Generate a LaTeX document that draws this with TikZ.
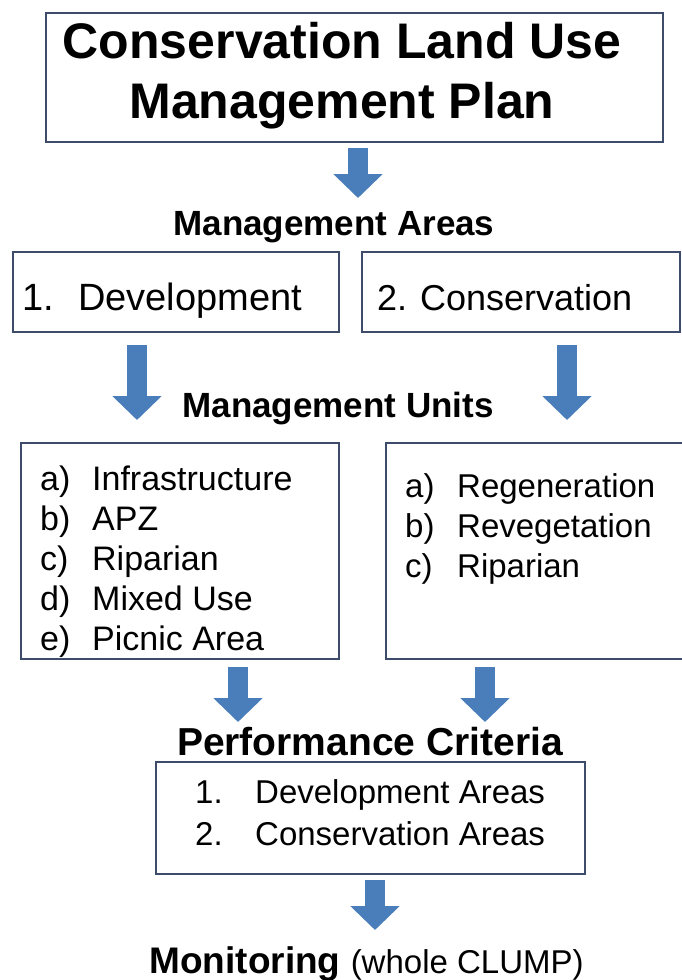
\documentclass[tikz,border=0pt]{standalone}
\usepackage{fontspec}
\setmainfont{Liberation Sans}
\usetikzlibrary{arrows.meta}
\definecolor{boxline}{HTML}{3E4C6C}
\definecolor{arrowblue}{HTML}{4A7EBB}
\tikzset{
  box/.style={draw=boxline, line width=2.2pt, inner sep=0pt, outer sep=0pt},
  head/.style={inner sep=0pt, anchor=base, font=\bfseries\fontsize{35}{42}\selectfont},
  item/.style={inner sep=0pt, anchor=base west},
  bigarrow/.style={draw=arrowblue, line width=20pt, -{Triangle[width=48pt,length=24pt]}},
}
\newcommand{\tag}[2]{\makebox[#1][l]{#2}}

\begin{document}
\begin{tikzpicture}[x=1pt,y=-1pt]
\useasboundingbox (0,0) rectangle (682,980);

\node[box, minimum width=617pt, minimum height=129pt] (plan) at (354.5,77.5) {};
\node[head, font=\bfseries\fontsize{50}{60}\selectfont] (title1) at (342,58) {Conservation Land Use};
\node[head, font=\bfseries\fontsize{50}{60}\selectfont] (title2) at (342,118) {Management Plan};

\node[head] (areas) at (334,235) {Management Areas};
\node[box, minimum width=326pt, minimum height=80pt] (dev) at (176,292) {};
\node[box, minimum width=318pt, minimum height=80pt] (cons) at (521,292) {};
\node[item, font=\fontsize{38}{44}\selectfont] (devtext) at (22,310) {\tag{56pt}{1.}Development};
\node[item, font=\fontsize{36}{44}\selectfont] (constext) at (377,310) {\tag{43pt}{2.}Conservation};

\node[head] (units) at (338,417) {Management Units};
\node[box, minimum width=318pt, minimum height=216pt] (devunits) at (180,551) {};
\node[box, minimum width=306pt, minimum height=216pt] (consunits) at (539,551) {};

\node[item, font=\fontsize{34}{40}\selectfont] (du1) at (40,490) {\tag{52pt}{a)}Infrastructure};
\node[item, font=\fontsize{34}{40}\selectfont] (du2) at (40,530) {\tag{52pt}{b)}APZ};
\node[item, font=\fontsize{34}{40}\selectfont] (du3) at (40,570) {\tag{52pt}{c)}Riparian};
\node[item, font=\fontsize{34}{40}\selectfont] (du4) at (40,610) {\tag{52pt}{d)}Mixed Use};
\node[item, font=\fontsize{34}{40}\selectfont] (du5) at (40,650) {\tag{52pt}{e)}Picnic Area};

\node[item, font=\fontsize{33}{40}\selectfont] (cu1) at (405,497) {\tag{52pt}{a)}Regeneration};
\node[item, font=\fontsize{33}{40}\selectfont] (cu2) at (405,537) {\tag{52pt}{b)}Revegetation};
\node[item, font=\fontsize{33}{40}\selectfont] (cu3) at (405,577) {\tag{52pt}{c)}Riparian};

\node[head, font=\bfseries\fontsize{39}{46}\selectfont] (crit) at (370,755) {Performance Criteria};
\node[box, minimum width=429pt, minimum height=112pt] (critbox) at (370.5,818) {};
\node[item, font=\fontsize{33}{40}\selectfont] (cr1) at (195,803) {\tag{60pt}{1.}Development Areas};
\node[item, font=\fontsize{33}{40}\selectfont] (cr2) at (195,845) {\tag{60pt}{2.}Conservation Areas};

\node[head, font=\bfseries\fontsize{37}{44}\selectfont] (monitor) at (366.5,973)
  {Monitoring {\mdseries\fontsize{33}{40}\selectfont (whole CLUMP)}};

% arrows
\draw[bigarrow] ([xshift=3.5pt,yshift=-6pt]plan.south) -- ([xshift=24pt,yshift=37pt]areas.base);
\draw[bigarrow] ([xshift=-39pt,yshift=-13pt]dev.south) -- ([xshift=-43pt,yshift=23pt]devunits.north);
\draw[bigarrow] ([xshift=46pt,yshift=-13pt]cons.south) -- ([xshift=28pt,yshift=23pt]consunits.north);
\draw[bigarrow] ([xshift=58pt,yshift=-8pt]devunits.south) -- ([xshift=-132pt,yshift=33pt]crit.base);
\draw[bigarrow] ([xshift=-54pt,yshift=-8pt]consunits.south) -- ([xshift=115pt,yshift=33pt]crit.base);
\draw[bigarrow] ([xshift=4.5pt,yshift=-6pt]critbox.south) -- ([xshift=8.5pt,yshift=43pt]monitor.base);
\end{tikzpicture}
\end{document}
